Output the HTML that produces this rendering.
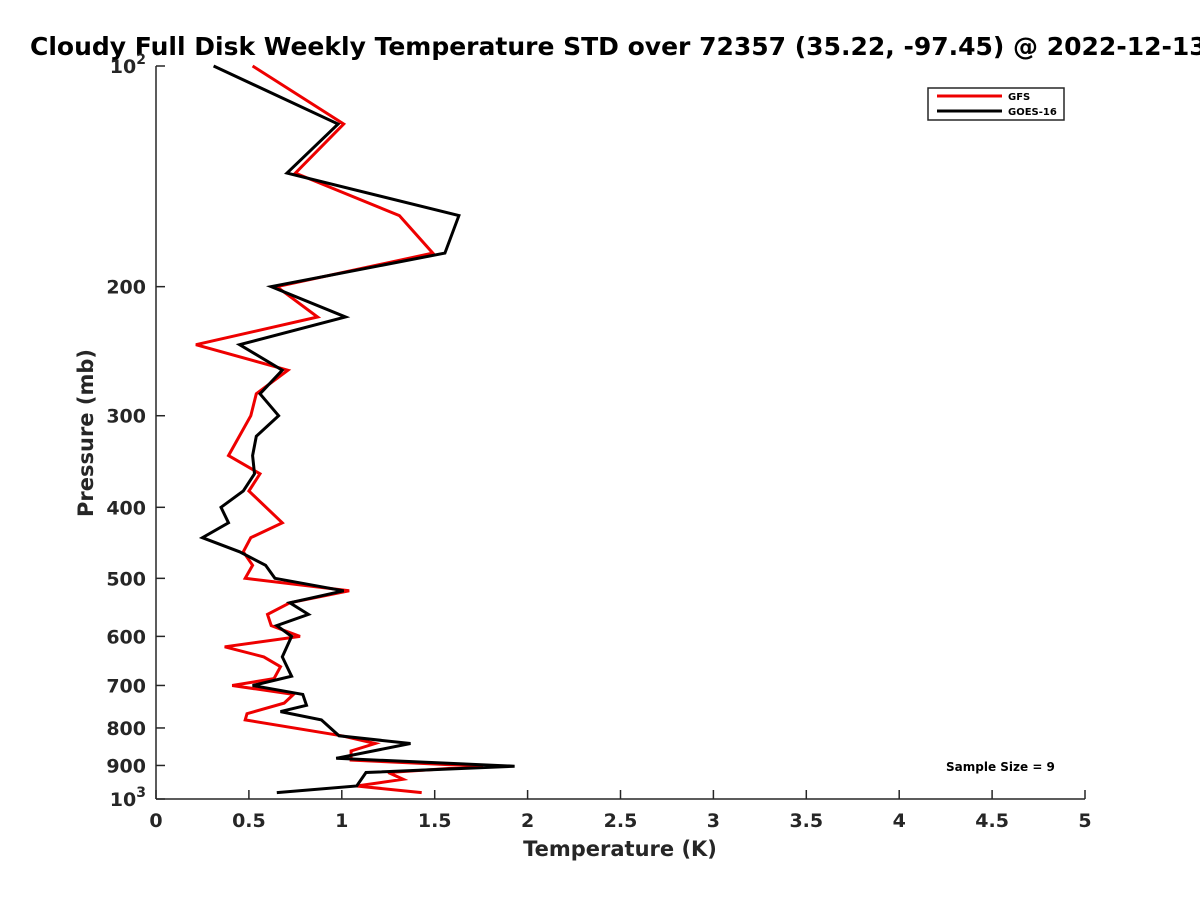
<!DOCTYPE html>
<html><head><meta charset="utf-8"><style>
html,body{margin:0;padding:0;background:#fff;}
svg{display:block;font-family:"DejaVu Sans","Liberation Sans",sans-serif;font-weight:bold;}
</style></head><body>
<svg id="chart" width="1200" height="900" viewBox="0 0 1200 900">
<text x="30" y="55" font-size="25" fill="#000">Cloudy Full Disk Weekly Temperature STD over 72357 (35.22, -97.45) @ 2022-12-13</text>
<g id="axes"></g>
<g id="series"></g>
<text x="620" y="856" font-size="21" text-anchor="middle" fill="#262626">Temperature (K)</text>
<text transform="translate(93,433) rotate(-90)" font-size="21" text-anchor="middle" fill="#262626">Pressure (mb)</text>
<g>
<rect x="928" y="88" width="136" height="32" fill="#fff" stroke="#262626" stroke-width="1.5"/>
<line x1="937" y1="96" x2="1002" y2="96" stroke="#e00" stroke-width="3"/>
<text x="1008" y="100" font-size="10" fill="#000">GFS</text>
<line x1="937" y1="111" x2="1002" y2="111" stroke="#000" stroke-width="3"/>
<text x="1008" y="115" font-size="10" fill="#000">GOES-16</text>
</g>
<text x="946" y="771" font-size="12" fill="#000">Sample Size = 9</text>
</svg>
<script>
const xTicks=[0,0.5,1,1.5,2,2.5,3,3.5,4,4.5,5];
const xTickLabels=["0","0.5","1","1.5","2","2.5","3","3.5","4","4.5","5"];
const yTicks=[100,200,300,400,500,600,700,800,900,1000];
const yTickLabels=["10^2","200","300","400","500","600","700","800","900","10^3"];
const goesP=[100,120,140,160,180,200,220,240,260,280,300,320,340,360,380,400,420,440,460,480,500,520,540,560,580,600,640,680,700,720,745,760,780,820,840,880,902,920,960,980];
const goesT=[0.31,0.98,0.705,1.63,1.555,0.62,1.02,0.45,0.68,0.56,0.66,0.54,0.52,0.53,0.47,0.35,0.39,0.25,0.45,0.59,0.64,1.01,0.72,0.82,0.65,0.73,0.68,0.73,0.52,0.79,0.81,0.67,0.89,0.985,1.37,0.97,1.93,1.13,1.08,0.65];
const gfsP=[100,120,140,160,180,200,220,240,260,280,300,340,360,380,420,440,460,480,500,520,540,560,580,600,620,640,660,685,700,720,740,765,780,820,840,860,885,902,920,940,960,980];
const gfsT=[0.52,1.01,0.75,1.31,1.49,0.65,0.87,0.215,0.71,0.54,0.51,0.39,0.56,0.50,0.68,0.51,0.47,0.52,0.48,1.04,0.72,0.60,0.62,0.775,0.37,0.58,0.67,0.635,0.41,0.74,0.69,0.49,0.48,1.00,1.18,1.05,1.05,1.76,1.25,1.33,1.08,1.43];
const NS="http://www.w3.org/2000/svg";
const X0=156,X1=1085,Y0=66,Y1=799;
function xs(t){return X0+(t-0)/(5-0)*(X1-X0);}
function ys(p){return Y0+(Math.log10(p)-2)/(3-2)*(Y1-Y0);}
function mk(tag,attrs,parent){const e=document.createElementNS(NS,tag);for(const k in attrs)e.setAttribute(k,attrs[k]);parent.appendChild(e);return e;}
const axes=document.getElementById('axes');
const xl=mk('line',{x1:X0,y1:Y1,x2:X1,y2:Y1,stroke:'#262626','stroke-width':1.5},axes);


const yl=mk('line',{x1:X0,y1:Y0,x2:X0,y2:Y1,stroke:'#262626','stroke-width':1.5},axes);


xTicks.forEach((t,i)=>{
  const x=xs(t);
  const tk=mk('line',{x1:x,y1:Y1,x2:x,y2:Y1-9,stroke:'#262626','stroke-width':1.5},axes);
  
  
  const tx=mk('text',{x:x,y:Y1+28,'font-size':19,'text-anchor':'middle',fill:'#262626'},axes);
  
  
  tx.textContent=xTickLabels[i];
});
yTicks.forEach((p,i)=>{
  const y=ys(p);
  const tk=mk('line',{x1:X0,y1:y,x2:X0+9,y2:y,stroke:'#262626','stroke-width':1.5},axes);
  
  
  const lab=yTickLabels[i];
  const tx=mk('text',{x:X0-10,y:y+7,'font-size':19,'text-anchor':'end',fill:'#262626'},axes);
  
  
  if(lab.indexOf('^')>=0){
    const parts=lab.split('^');
    tx.textContent=parts[0];
    const sup=mk('tspan',{dy:-9,'font-size':14},tx);
    sup.textContent=parts[1];
  } else tx.textContent=lab;
});
const series=document.getElementById('series');
function line(P,T,color,name){
  const pts=P.map((p,i)=>xs(T[i]).toFixed(1)+','+ys(p).toFixed(1)).join(' ');
  const pl=mk('polyline',{points:pts,fill:'none',stroke:color,'stroke-width':3,'stroke-linejoin':'miter'},series);
  
  
}
line(gfsP,gfsT,'#e00','gfs-line');
line(goesP,goesT,'#000','goes16-line');
</script>
</body></html>
